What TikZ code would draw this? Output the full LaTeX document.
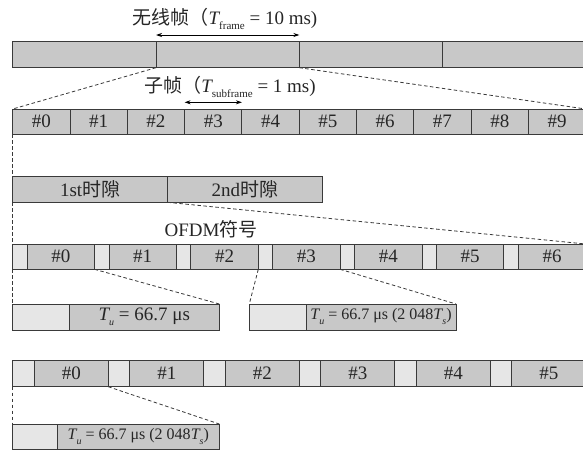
\documentclass[tikz,border=0pt]{standalone}
\usepackage{fontspec}
\setmainfont{Liberation Serif}
\newfontfamily\cjk{Noto Sans CJK SC}
\usetikzlibrary{arrows.meta}
\definecolor{boxfill}{HTML}{C8C8C8}
\definecolor{cpfill}{HTML}{E6E6E6}
\definecolor{edge}{HTML}{3A3A3A}
\newcommand{\subT}[1]{{\itshape T}\raisebox{-5.5pt}{\fontsize{11}{12}\selectfont #1}}
\newcommand{\subTi}[1]{{\itshape T}\raisebox{-5pt}{\fontsize{10}{11}\selectfont\itshape #1}}
\tikzset{
  cell/.style={draw=edge, line width=0.9pt, inner sep=0pt, outer sep=0pt, anchor=north west,
    font=\fontsize{19}{22}\selectfont, text=black!85},
  databox/.style={cell, fill=boxfill},
  cpbox/.style={cell, fill=cpfill},
  dashline/.style={draw=edge, line width=0.8pt, dash pattern=on 3.5pt off 2.5pt},
  dimarrow/.style={draw=black, line width=0.8pt, {Stealth[length=6pt,width=4pt]}-{Stealth[length=6pt,width=4pt]}},
  lbl/.style={inner sep=0pt, font=\fontsize{19}{22}\selectfont, text=black!85},
  smalltext/.style={font=\fontsize{16}{18}\selectfont}
}
\begin{document}
\begin{tikzpicture}[x=1pt,y=-1pt]
\clip (0,0) rectangle (583,450);
\fill[white] (0,0) rectangle (583,450);
% Row 1: radio frames
\foreach \i in {0,...,3}{
  \node[databox, minimum width=143.3pt, minimum height=26.2pt] (f\i) at ({12.7+143.3*\i},41.5) {};
}
% Row 2: subframes
\foreach \i in {0,...,9}{
  \node[databox, minimum width=57.3pt, minimum height=25.3pt] (s\i) at ({12.7+57.3*\i},109) {\#\i};
}
% Row 3: slots
\node[databox, minimum width=154.8pt, minimum height=25.6pt] (sl1) at (12.7,176.7) {1st{\cjk 时隙}};
\node[databox, minimum width=154.8pt, minimum height=25.6pt] (sl2) at (167.5,176.7) {2nd{\cjk 时隙}};
% Row 4: 7 OFDM symbols (normal CP)
\foreach \i in {0,...,6}{
  \node[cpbox, minimum width=14.5pt, minimum height=25.3pt] (oc\i) at ({12.7+81.86*\i},244) {};
  \node[databox, minimum width=67.36pt, minimum height=25.3pt] (od\i) at ({27.2+81.86*\i},244) {\#\i};
}
% Row 5: expanded symbols
\node[cpbox, minimum width=56.6pt, minimum height=26pt] (ac) at (12.7,304) {};
\node[databox, minimum width=150pt, minimum height=26pt] (ad) at (69.3,304) {\subTi{u} = 66.7 μs};
\node[cpbox, minimum width=56.7pt, minimum height=26pt] (bc) at (249.3,304) {};
\node[databox, smalltext, minimum width=150pt, minimum height=26pt] (bd) at (306,304) {\subTi{u} = 66.7 μs (2 048\subTi{s})};
% Row 6: 6 OFDM symbols (extended CP)
\foreach \i in {0,...,5}{
  \node[cpbox, minimum width=21.6pt, minimum height=26pt] (ec\i) at ({12.7+95.5*\i},360.7) {};
  \node[databox, minimum width=73.9pt, minimum height=26pt] (ed\i) at ({34.3+95.5*\i},360.7) {\#\i};
}
% Row 7
\node[cpbox, minimum width=44.6pt, minimum height=25.5pt] (gc) at (12.7,424) {};
\node[databox, smalltext, minimum width=162pt, minimum height=25.5pt] (gd) at (57.3,424) {\subTi{u} = 66.7 μs (2 048\subTi{s})};
% labels
\node[lbl] (t1) at (225,19) {{\cjk 无线帧（}\subT{frame} = 10 ms)};
\draw[dimarrow] ([yshift=6.5pt]f1.north west) -- ([yshift=6.5pt]f1.north east);
\node[lbl] (t2) at (230,87) {{\cjk 子帧（}\subT{subframe} = 1 ms)};
\draw[dimarrow] ([yshift=6.7pt]s3.north west) -- ([yshift=6.7pt]s3.north east);
\node[lbl] (t3) at (211,229) {OFDM{\cjk 符号}};
% dashed connectors
\draw[dashline] (f1.south west) -- (s0.north west);
\draw[dashline] (f1.south east) -- (s9.north east);
\draw[dashline] (s0.south west) -- (sl1.north west);
\draw[dashline] (sl1.south west) -- (oc0.north west);
\draw[dashline] (sl1.south east) -- (od6.north east);
\draw[dashline] (oc0.south west) -- (ac.north west);
\draw[dashline] (od0.south east) -- (ad.north east);
\draw[dashline] (od2.south east) -- (bc.north west);
\draw[dashline] (od3.south east) -- (bd.north east);
\draw[dashline] (ec0.south west) -- (gc.north west);
\draw[dashline] (ed0.south east) -- (gd.north east);
\end{tikzpicture}
\end{document}
